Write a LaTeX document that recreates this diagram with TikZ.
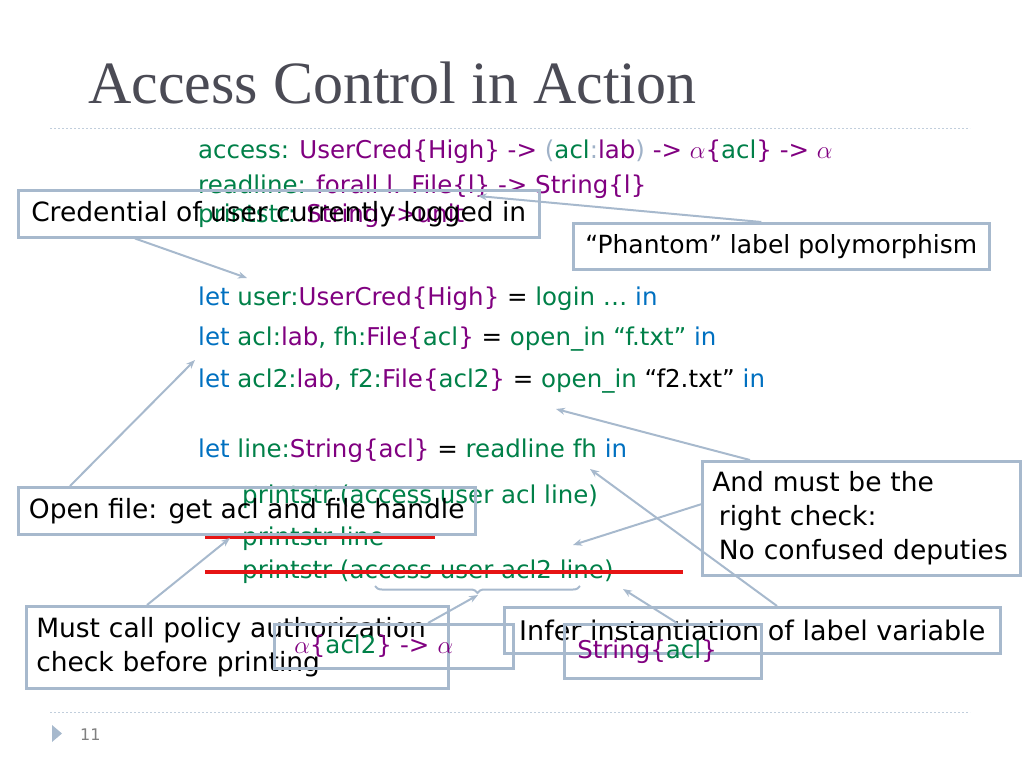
\documentclass[tikz,border=0pt]{standalone}
\usepackage{fontspec}
\setmainfont{DejaVu Sans}
\newfontfamily\titlefont{Liberation Serif}
\usetikzlibrary{arrows.meta,decorations.pathreplacing}

\definecolor{codegreen}{RGB}{0,128,72}
\definecolor{codepurple}{RGB}{128,0,128}
\definecolor{codeblue}{RGB}{0,112,192}
\definecolor{parengray}{RGB}{160,178,200}
\definecolor{boxblue}{RGB}{167,185,205}
\definecolor{titlegray}{RGB}{75,75,85}
\definecolor{strikered}{RGB}{230,20,20}

\newcommand{\kw}[1]{\textcolor{codeblue}{#1}}
\newcommand{\gr}[1]{\textcolor{codegreen}{#1}}
\newcommand{\pu}[1]{\textcolor{codepurple}{#1}}
\newcommand{\pg}[1]{\textcolor{parengray}{#1}}

\tikzset{
  code/.style={anchor=base west, inner sep=0pt, font=\fontsize{24.5}{30}\selectfont},
  callout/.style={draw=boxblue, line width=2.5pt, anchor=north west, inner sep=10pt,
    font=\fontsize{26.5}{34}\selectfont},
  ptr/.style={draw=boxblue, line width=2pt, -{Stealth[length=9pt,width=7pt]}},
  strike/.style={draw=strikered, line width=4pt},
  rule/.style={draw=boxblue!70, line width=1pt, dash pattern=on 2pt off 2pt}
}

\begin{document}
\begin{tikzpicture}[x=1pt,y=-1pt]
\useasboundingbox (0,0) rectangle (1024,768);

% title and rules
\node[anchor=base west, inner sep=0pt, text=titlegray, font=\titlefont\fontsize{60}{62}\selectfont]
  (title) at (88,103) {Access Control in Action};
\draw[rule] (50,128) -- (970,128);
\draw[rule] (50,712) -- (970,712);
\fill[boxblue] (52,725) -- (62,733.5) -- (52,742) -- cycle;
\node[anchor=base west, inner sep=0pt, text=gray, font=\fontsize{16}{18}\selectfont] (pagenum) at (80,740) {11};

% code
\node[code] (sigaccess) at (198,158) {\gr{access:} \pu{UserCred\{High\} ->} \pg{(}\gr{acl}\pg{:}\pu{lab}\pg{)} \pu{-> $\alpha$\{}\gr{acl}\pu{\} -> $\alpha$}};
\node[code] (sigread) at (198,193) {\gr{readline:} \pu{forall l. File\{l\} -> String\{l\}}};
\node[code] (sigprint) at (198,222) {\gr{printstr:} \pu{String ->unit}};
\node[code] (letuser) at (198,305) {\kw{let} \gr{user:}\pu{UserCred\{High\}} = \gr{login \dots} \kw{in}};
\node[code] (letacl) at (198,345) {\kw{let} \gr{acl:}\pu{lab}\gr{, fh:}\pu{File\{}\gr{acl}\pu{\}} = \gr{open\_in “f.txt”} \kw{in}};
\node[code] (letacltwo) at (198,387) {\kw{let} \gr{acl2:}\pu{lab}\gr{, f2:}\pu{File\{}\gr{acl2}\pu{\}} = \gr{open\_in} “f2.txt” \kw{in}};
\node[code] (letline) at (198,457) {\kw{let} \gr{line:}\pu{String\{acl\}} = \gr{readline fh} \kw{in}};
\node[code] (printa) at (242,503) {\gr{printstr (access user acl line)}};
\node[code] (printb) at (242,545) {\gr{printstr line}};
\node[code] (printc) at (242,578) {\gr{printstr (access user acl2 line)}};

\draw[strike] (205,537) -- (435,537);
\draw[strike] (205,572) -- (683,572);
\draw[draw=boxblue, line width=2pt, decorate, decoration={brace, mirror, amplitude=7pt}]
  (375,586) -- (580,586);

% callouts
\node[callout, minimum width=521pt, minimum height=47pt] (cred) at (17,189) {Credential of user currently logged in};
\node[callout, minimum width=416pt, minimum height=46pt, font=\fontsize{25}{30}\selectfont] (phantom) at (572,222) {“Phantom” label polymorphism};
\node[callout, minimum width=457pt, minimum height=47pt] (openf) at (17,486) {Open file: get acl and file handle};
\node[callout, minimum width=318pt, minimum height=114pt, text width=298pt, align=left] (deputy) at (701,460)
  {And must be the\\\hspace*{0.25em}right check:\\\hspace*{0.25em}No confused deputies};
\node[callout, minimum width=422pt, minimum height=82pt, text width=402pt, align=left] (mustcall) at (25,605)
  {Must call policy authorization\\check before printing};
\node[callout, minimum width=239pt, minimum height=44pt, text width=199pt, align=left, inner xsep=19pt,
  font=\fontsize{24.5}{30}\selectfont] (alphabox) at (273,623) {\pu{$\alpha$\{}\gr{acl2}\pu{\} -> $\alpha$}};
\node[callout, minimum width=496pt, minimum height=46pt, font=\fontsize{27}{34}\selectfont] (infer) at (503,606) {Infer instantiation of label variable};
\node[callout, minimum width=197pt, minimum height=54pt, text width=171pt, align=left, inner xsep=12pt,
  font=\fontsize{24.5}{30}\selectfont] (stringbox) at (563,623) {\pu{String\{}\gr{acl}\pu{\}}};

% arrow targets
\coordinate (fileL) at (478,196);
\coordinate (userT) at (247,278);
\coordinate (aclT) at (195,360);
\coordinate (openinT) at (556,409);
\coordinate (readfhT) at (590,469);
\coordinate (acltwoT) at (573,545);
\coordinate (strikeT) at (230,538);
\coordinate (braceT) at (478,595);
\coordinate (lineT) at (623,589);

% arrows
\draw[ptr] ([xshift=-20pt]phantom.north) -- (fileL);
\draw[ptr] ([xshift=118pt]cred.south west) -- (userT);
\draw[ptr] ([xshift=53pt]openf.north west) -- (aclT);
\draw[ptr] ([xshift=49pt]deputy.north west) -- (openinT);
\draw[ptr] ([yshift=14pt]deputy.west) -- (acltwoT);
\draw[ptr] ([xshift=274pt]infer.north west) -- (readfhT);
\draw[ptr] ([xshift=122pt]mustcall.north west) -- (strikeT);
\draw[ptr] ([xshift=155pt]alphabox.north west) -- (braceT);
\draw[ptr] ([xshift=114pt]stringbox.north west) -- (lineT);
\end{tikzpicture}
\end{document}
